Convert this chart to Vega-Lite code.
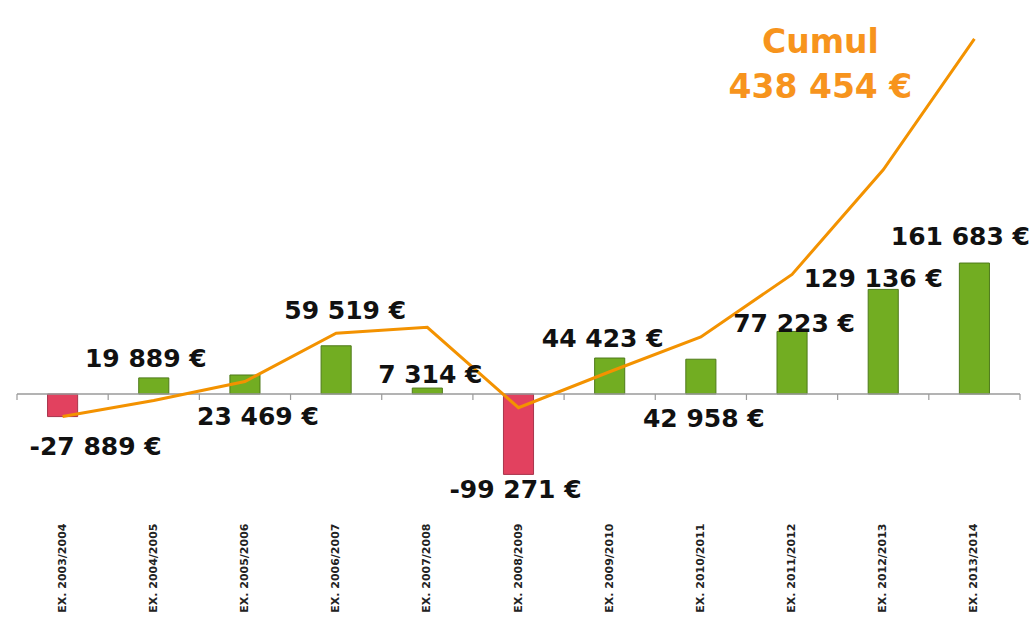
{
  "$schema": "https://vega.github.io/schema/vega-lite/v6.json",
  "width": 1003,
  "height": 505,
  "autosize": {"type": "none"},
  "padding": {"left": 17, "top": 10, "right": 13, "bottom": 124},
  "background": "white",
  "config": {
    "view": {"stroke": null},
    "locale": {
      "number": {"decimal": ",", "thousands": " ", "grouping": [3], "currency": ["", " €"], "minus": "-"}
    },
    "text": {"font": "DejaVu Sans", "fontSize": 25, "fontWeight": "bold", "color": "#111111", "align": "center", "baseline": "alphabetic"}
  },
  "data": {
    "values": [
      {"cat": "EX. 2003/2004", "value": -27889, "cumul": -27889},
      {"cat": "EX. 2004/2005", "value": 19889, "cumul": -8000},
      {"cat": "EX. 2005/2006", "value": 23469, "cumul": 15469},
      {"cat": "EX. 2006/2007", "value": 59519, "cumul": 74988},
      {"cat": "EX. 2007/2008", "value": 7314, "cumul": 82302},
      {"cat": "EX. 2008/2009", "value": -99271, "cumul": -16969},
      {"cat": "EX. 2009/2010", "value": 44423, "cumul": 27454},
      {"cat": "EX. 2010/2011", "value": 42958, "cumul": 70412},
      {"cat": "EX. 2011/2012", "value": 77223, "cumul": 147635},
      {"cat": "EX. 2012/2013", "value": 129136, "cumul": 276771},
      {"cat": "EX. 2013/2014", "value": 161683, "cumul": 438454}
    ]
  },
  "layer": [
    {
      "mark": {"type": "bar", "strokeWidth": 1},
      "encoding": {
        "x": {
          "field": "cat", "type": "nominal", "sort": null,
          "scale": {"paddingInner": 0.67, "paddingOuter": 0.335},
          "axis": {"title": null, "labelAngle": -90, "labelFont": "DejaVu Sans", "labelFontWeight": "bold", "labelFontSize": 11, "labelColor": "#222222", "ticks": false, "domain": false, "labelPadding": 8}
        },
        "y": {"field": "value", "type": "quantitative", "scale": {"domain": [-149383, 474074], "nice": false, "zero": false}, "axis": null},
        "y2": {"datum": 0},
        "color": {"condition": {"test": "datum.value < 0", "value": "#E2415F"}, "value": "#72AD22"},
        "stroke": {"condition": {"test": "datum.value < 0", "value": "#A8354C"}, "value": "#4E7A1A"}
      }
    },
    {
      "data": {"values": [{}]},
      "mark": {"type": "rule", "color": "#9A9A9A", "strokeWidth": 1.5},
      "encoding": {"y": {"datum": 0, "type": "quantitative"}}
    },
    {
      "mark": {"type": "rule", "color": "#9A9A9A", "strokeWidth": 1.2, "xOffset": -45.59, "y2Offset": 6},
      "encoding": {
        "x": {"field": "cat", "type": "nominal", "sort": null},
        "y": {"datum": 0, "type": "quantitative"},
        "y2": {"datum": 0}
      }
    },
    {
      "transform": [{"filter": "datum.cat == 'EX. 2013/2014'"}],
      "mark": {"type": "rule", "color": "#9A9A9A", "strokeWidth": 1.2, "xOffset": 45.59, "y2Offset": 6},
      "encoding": {
        "x": {"field": "cat", "type": "nominal", "sort": null},
        "y": {"datum": 0, "type": "quantitative"},
        "y2": {"datum": 0}
      }
    },
    {
      "mark": {"type": "line", "color": "#F39200", "strokeWidth": 3},
      "encoding": {
        "x": {"field": "cat", "type": "nominal", "sort": null},
        "y": {"field": "cumul", "type": "quantitative"}
      }
    },
    {"transform": [{"filter": "datum.cat == 'EX. 2003/2004'"}], "mark": {"type": "text", "dx": 33, "dy": 38},
     "encoding": {"x": {"field": "cat", "type": "nominal", "sort": null}, "y": {"field": "value", "type": "quantitative"}, "text": {"field": "value", "type": "quantitative", "format": "$,d"}}},
    {"transform": [{"filter": "datum.cat == 'EX. 2004/2005'"}], "mark": {"type": "text", "dx": -8, "dy": -11},
     "encoding": {"x": {"field": "cat", "type": "nominal", "sort": null}, "y": {"field": "value", "type": "quantitative"}, "text": {"field": "value", "type": "quantitative", "format": "$,d"}}},
    {"transform": [{"filter": "datum.cat == 'EX. 2005/2006'"}], "mark": {"type": "text", "dx": 13, "dy": 50},
     "encoding": {"x": {"field": "cat", "type": "nominal", "sort": null}, "y": {"field": "value", "type": "quantitative"}, "text": {"field": "value", "type": "quantitative", "format": "$,d"}}},
    {"transform": [{"filter": "datum.cat == 'EX. 2006/2007'"}], "mark": {"type": "text", "dx": 9, "dy": -27},
     "encoding": {"x": {"field": "cat", "type": "nominal", "sort": null}, "y": {"field": "value", "type": "quantitative"}, "text": {"field": "value", "type": "quantitative", "format": "$,d"}}},
    {"transform": [{"filter": "datum.cat == 'EX. 2007/2008'"}], "mark": {"type": "text", "dx": 3, "dy": -5},
     "encoding": {"x": {"field": "cat", "type": "nominal", "sort": null}, "y": {"field": "value", "type": "quantitative"}, "text": {"field": "value", "type": "quantitative", "format": "$,d"}}},
    {"transform": [{"filter": "datum.cat == 'EX. 2008/2009'"}], "mark": {"type": "text", "dx": -3, "dy": 24},
     "encoding": {"x": {"field": "cat", "type": "nominal", "sort": null}, "y": {"field": "value", "type": "quantitative"}, "text": {"field": "value", "type": "quantitative", "format": "$,d"}}},
    {"transform": [{"filter": "datum.cat == 'EX. 2009/2010'"}], "mark": {"type": "text", "dx": -7, "dy": -11},
     "encoding": {"x": {"field": "cat", "type": "nominal", "sort": null}, "y": {"field": "value", "type": "quantitative"}, "text": {"field": "value", "type": "quantitative", "format": "$,d"}}},
    {"transform": [{"filter": "datum.cat == 'EX. 2010/2011'"}], "mark": {"type": "text", "dx": 3, "dy": 68},
     "encoding": {"x": {"field": "cat", "type": "nominal", "sort": null}, "y": {"field": "value", "type": "quantitative"}, "text": {"field": "value", "type": "quantitative", "format": "$,d"}}},
    {"transform": [{"filter": "datum.cat == 'EX. 2011/2012'"}], "mark": {"type": "text", "dx": 2, "dy": 1},
     "encoding": {"x": {"field": "cat", "type": "nominal", "sort": null}, "y": {"field": "value", "type": "quantitative"}, "text": {"field": "value", "type": "quantitative", "format": "$,d"}}},
    {"transform": [{"filter": "datum.cat == 'EX. 2012/2013'"}], "mark": {"type": "text", "dx": -10, "dy": -2},
     "encoding": {"x": {"field": "cat", "type": "nominal", "sort": null}, "y": {"field": "value", "type": "quantitative"}, "text": {"field": "value", "type": "quantitative", "format": "$,d"}}},
    {"transform": [{"filter": "datum.cat == 'EX. 2013/2014'"}], "mark": {"type": "text", "dx": -14, "dy": -18},
     "encoding": {"x": {"field": "cat", "type": "nominal", "sort": null}, "y": {"field": "value", "type": "quantitative"}, "text": {"field": "value", "type": "quantitative", "format": "$,d"}}},
    {"transform": [{"filter": "datum.cat == 'EX. 2013/2014'"}], "mark": {"type": "text", "dx": -154, "dy": 14, "fontSize": 33, "color": "#F7941D"},
     "encoding": {"x": {"field": "cat", "type": "nominal", "sort": null}, "y": {"field": "cumul", "type": "quantitative"}, "text": {"value": "Cumul"}}},
    {"transform": [{"filter": "datum.cat == 'EX. 2013/2014'"}], "mark": {"type": "text", "dx": -154, "dy": 59, "fontSize": 33, "color": "#F7941D"},
     "encoding": {"x": {"field": "cat", "type": "nominal", "sort": null}, "y": {"field": "cumul", "type": "quantitative"}, "text": {"field": "cumul", "type": "quantitative", "format": "$,d"}}}
  ]
}
